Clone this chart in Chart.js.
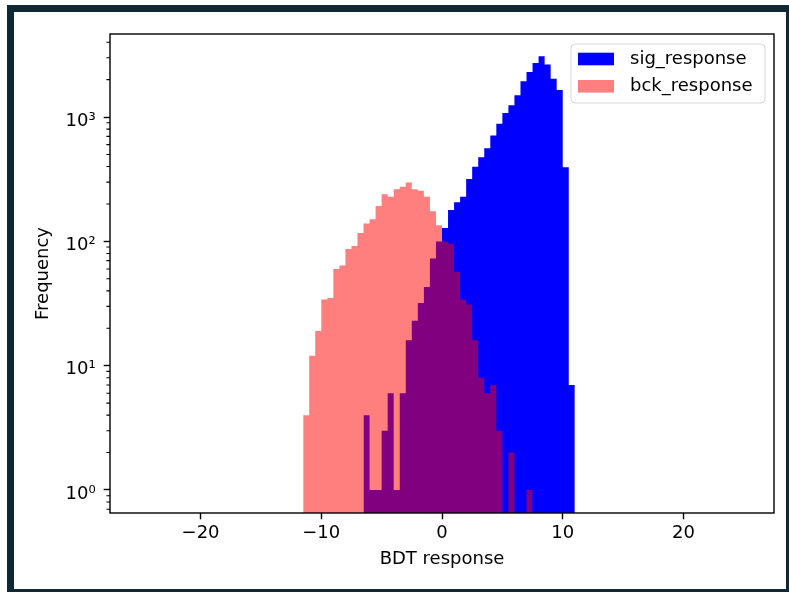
<!DOCTYPE html>
<html>
<head>
<meta charset="utf-8">
<title>BDT response</title>
<script src="https://cdn.jsdelivr.net/npm/chart.js@4.4.1/dist/chart.umd.min.js"></script>
<style>
  body { margin: 0; background: #fff; }
  #frame {
    position: absolute; left: 7px; top: 5px; width: 782px; height: 587px;
    box-sizing: border-box; border: solid #0f2836; border-width: 7px 3px 3px 7px;
  }
  #chart { position: absolute; left: 0; top: 0; }
</style>
</head>
<body>
<div id="frame"></div>
<canvas id="chart" width="789" height="592"></canvas>
<script>
// BDT output histograms, 0.5 wide bins, log counts

const BIN_WIDTH = 0.5;

// signal: first bin starts at -6.5
const sigStart = -6.5;
const sigCounts = [
  4, 1, 1, 3, 6, 1, 6, 16, 23, 32,
  43, 73, 100, 128, 179, 206, 229, 318, 399, 475,
  561, 712, 885, 1078, 1243, 1500, 1945, 2300, 2725, 3080,
  2650, 2030, 1652, 394, 7
];

// background: first bin starts at -11.5
const bckStart = -11.5;
const bckCounts = [
  4, 12, 19, 34, 35, 60, 64, 87, 92, 117,
  139, 151, 193, 239, 229, 263, 275, 297, 263, 256,
  229, 175, 135, 100, 96, 57, 34, 31, 16, 8,
  6, 7, 3, 0, 2, 0, 0, 1
];

const seriesNames = ['sig_response', 'bck_response'];
const xTicks = [-20, -10, 0, 10, 20];
const yMajor = [1, 10, 100, 1000];
const yTickLabels = ['10\u2070', '10\u00b9', '10\u00b2', '10\u00b3'];

const X_MIN = -27.5, X_MAX = 27.5;
const Y_MIN = 0.653, Y_MAX = 4660;

const SIG_COLOR = '#0000ff';
const BCK_COLOR = 'rgba(255, 0, 0, 0.5)';
const FONT = 'DejaVu Sans';

Chart.defaults.font.family = FONT;
Chart.defaults.font.size = 18;
Chart.defaults.color = '#000';

// left bin edges with their counts, closed at the last right edge.
// the log axis drops zeros, so empty bins sit on the axis floor
function stepPoints(start, counts) {
  const pts = counts.map((c, i) => ({ x: start + i * BIN_WIDTH, y: c > 0 ? c : Y_MIN }));
  pts.push({ x: start + counts.length * BIN_WIDTH, y: Y_MIN });
  return pts;
}

// minor ticks of the log axis: 2..9 per decade
const yMinor = [];
for (let e = -1; e <= 3; e++) {
  for (let m = 2; m <= 9; m++) {
    const v = m * Math.pow(10, e);
    if (v >= Y_MIN && v <= Y_MAX) yMinor.push(v);
  }
}

// spines, minor ticks and legend box
const axesFrame = {
  id: 'axesFrame',
  afterDatasetsDraw(chart) {
    const { ctx, chartArea: a } = chart;
    const y = chart.scales.y;
    ctx.save();

    ctx.strokeStyle = '#000';
    ctx.lineWidth = 1.1;
    ctx.beginPath();
    for (const v of yMinor) {
      const py = y.getPixelForValue(v);
      ctx.moveTo(a.left - 3.6, py);
      ctx.lineTo(a.left, py);
    }
    ctx.stroke();

    ctx.lineWidth = 1.4;
    ctx.strokeRect(a.left, a.top, a.right - a.left, a.bottom - a.top);

    // legend, upper right
    const bw = 194, bh = 59;
    const bx = a.right - 9 - bw, by = a.top + 10;
    ctx.beginPath();
    ctx.roundRect(bx, by, bw, bh, 4);
    ctx.fillStyle = 'rgba(255,255,255,0.8)';
    ctx.fill();
    ctx.strokeStyle = 'rgba(204,204,204,0.8)';
    ctx.lineWidth = 1;
    ctx.stroke();

    ctx.font = '18px "' + FONT + '"';
    ctx.textBaseline = 'middle';
    ctx.textAlign = 'left';
    chart.data.datasets.forEach((ds, i) => {
      const cy = by + 15 + i * 27.3;
      ctx.fillStyle = ds.backgroundColor;
      ctx.fillRect(bx + 7, cy - 6.3, 36, 12.6);
      ctx.fillStyle = '#000';
      ctx.fillText(ds.label, bx + 59, cy);
    });

    ctx.restore();
  }
};

new Chart(document.getElementById('chart'), {
  type: 'line',
  data: {
    datasets: [
      {
        label: seriesNames[0],
        data: stepPoints(sigStart, sigCounts),
        backgroundColor: SIG_COLOR,
        fill: 'start',
        stepped: 'before',
        order: 1
      },
      {
        label: seriesNames[1],
        data: stepPoints(bckStart, bckCounts),
        backgroundColor: BCK_COLOR,
        fill: 'start',
        stepped: 'before',
        order: 0
      }
    ]
  },
  options: {
    responsive: false,
    animation: false,
    layout: { padding: { left: 0, right: 15, top: 34, bottom: 0 } },
    elements: {
      line: { borderWidth: 0, borderColor: 'rgba(0,0,0,0)', tension: 0 },
      point: { radius: 0, hoverRadius: 0 }
    },
    plugins: {
      legend: { display: false },
      tooltip: { enabled: false }
    },
    scales: {
      x: {
        type: 'linear',
        min: X_MIN,
        max: X_MAX,
        offset: false,
        afterFit: s => { s.height = 79; },
        afterBuildTicks: s => { s.ticks = xTicks.map(v => ({ value: v })); },
        border: { display: false },
        grid: { drawOnChartArea: false, tickLength: 6.3, tickWidth: 1.4, tickColor: '#000' },
        ticks: {
          padding: 3,
          maxRotation: 0,
          autoSkip: false,
          callback: v => String(v).replace('-', '\u2212')
        },
        title: { display: true, text: 'BDT response', padding: { top: 0, bottom: 22 } }
      },
      y: {
        type: 'logarithmic',
        min: Y_MIN,
        max: Y_MAX,
        afterFit: s => { s.width = 110; },
        afterBuildTicks: s => { s.ticks = yMajor.map(v => ({ value: v })); },
        border: { display: false },
        grid: { drawOnChartArea: false, tickLength: 6.3, tickWidth: 1.4, tickColor: '#000' },
        ticks: {
          padding: 8,
          labelOffset: 4,
          autoSkip: false,
          callback: v => yTickLabels[yMajor.indexOf(v)]
        },
        title: { display: true, text: 'Frequency', padding: { top: 33, bottom: 0 } }
      }
    }
  },
  plugins: [axesFrame]
});
</script>
</body>
</html>
